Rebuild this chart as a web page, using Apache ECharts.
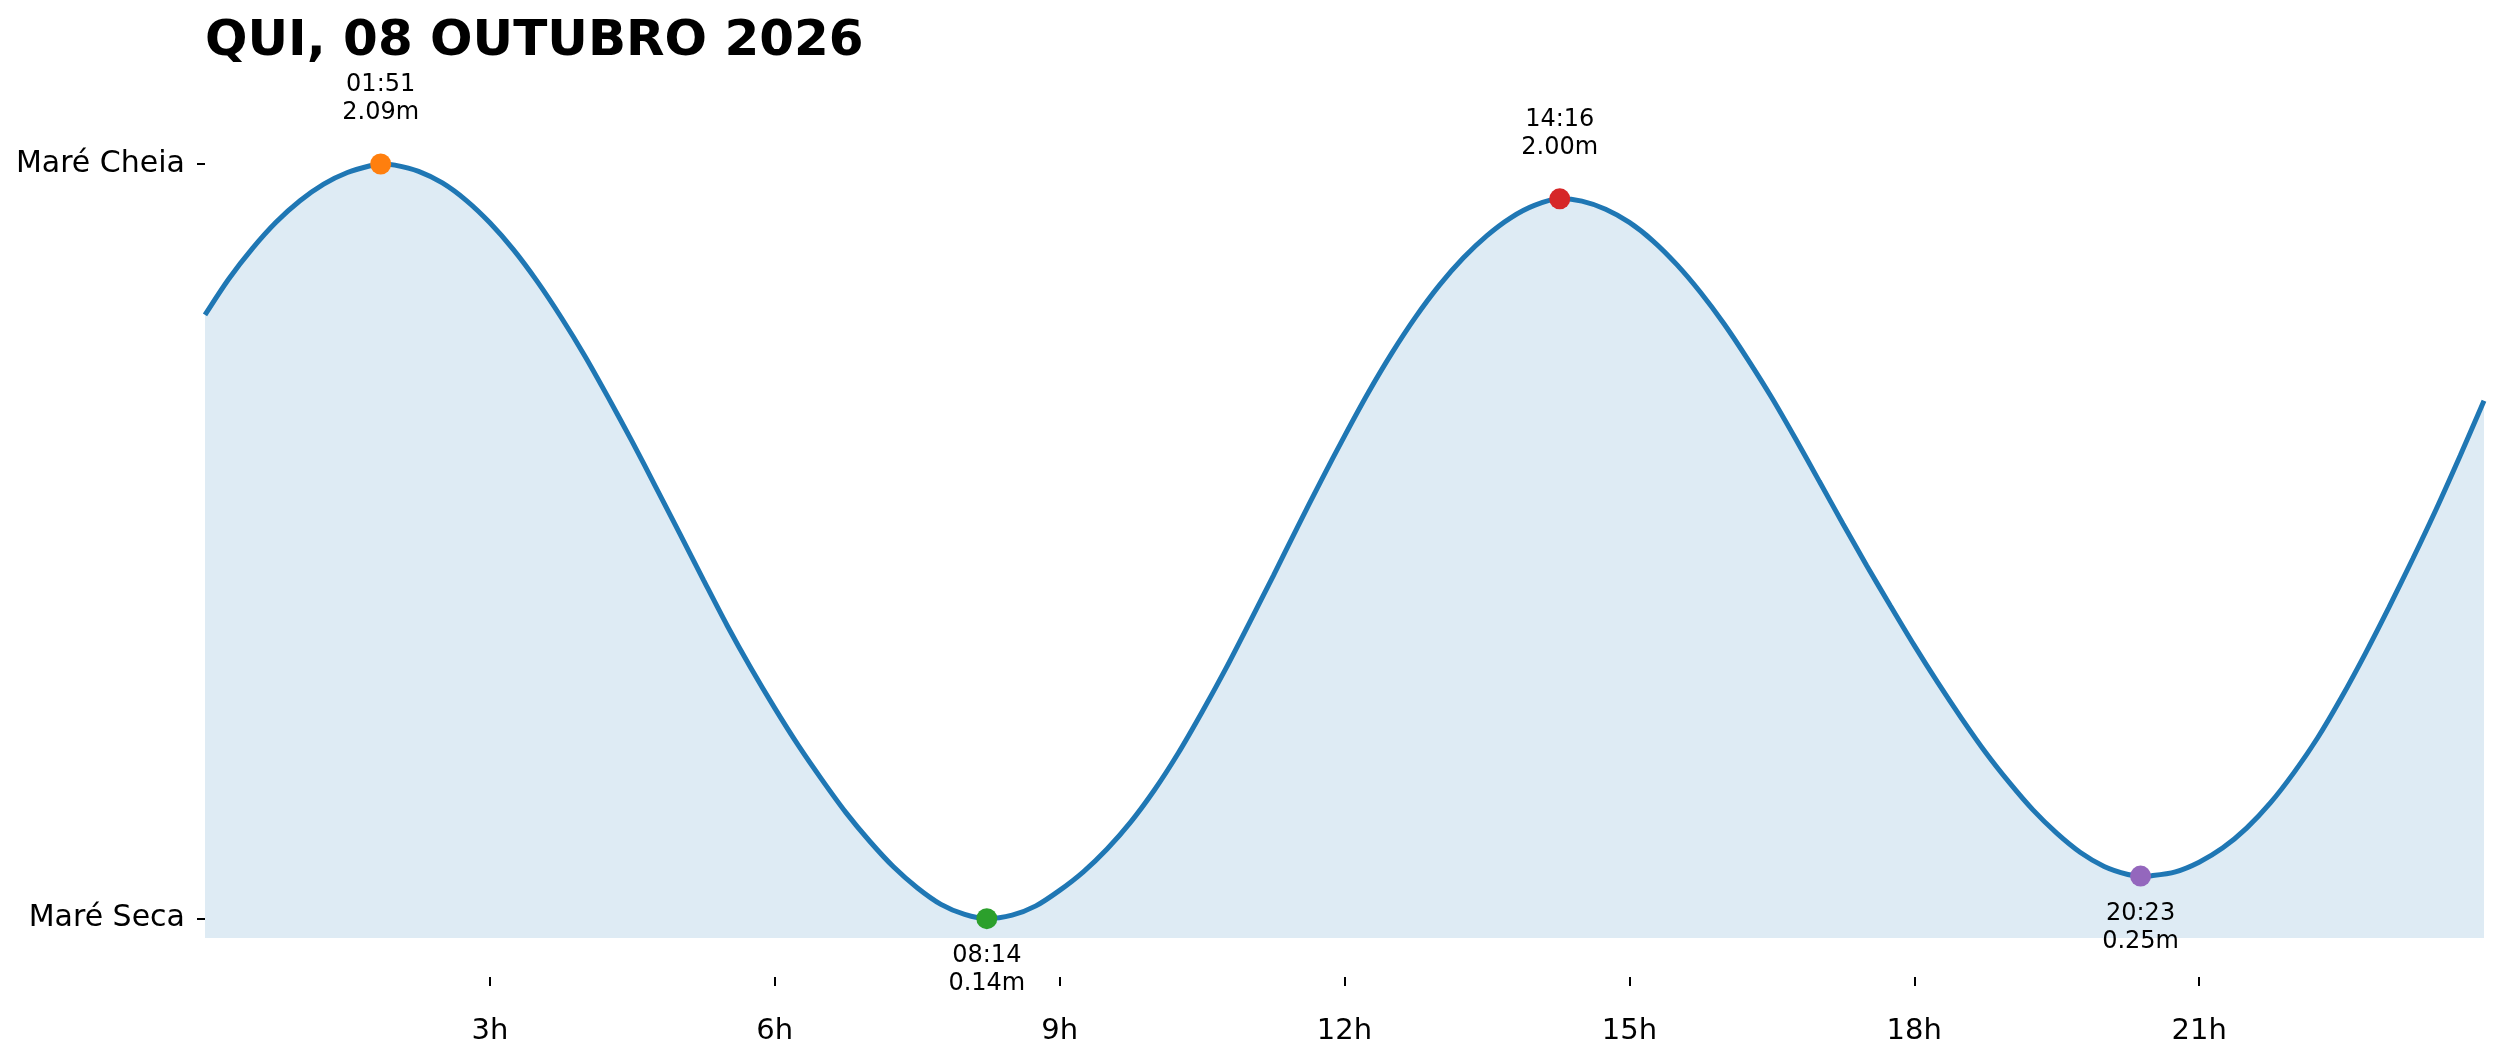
<!DOCTYPE html>
<html>
<head>
<meta charset="utf-8">
<title>Tábua de marés</title>
<script src="https://cdn.jsdelivr.net/npm/echarts@6/dist/echarts.min.js"></script>
<style>
  html, body { margin: 0; padding: 0; background: #fff; }
  #chart { width: 2501px; height: 1062px; }
</style>
</head>
<body>
<div id="chart"></div>
<script>
// curve (hour of day, height in m)
var hours = [
  0, 0.25, 0.5, 0.75, 1, 1.25, 1.5, 1.75, 1.85,
  2, 2.25, 2.5, 2.75, 3, 3.25, 3.5, 3.75, 4, 4.25, 4.5, 4.75, 5, 5.25, 5.5, 5.75,
  6, 6.25, 6.5, 6.75, 7, 7.25, 7.5, 7.75, 8, 8.2333,
  8.5, 8.75, 9, 9.25, 9.5, 9.75, 10, 10.25, 10.5, 10.75, 11, 11.25, 11.5, 11.75,
  12, 12.25, 12.5, 12.75, 13, 13.25, 13.5, 13.75, 14, 14.2667,
  14.5, 14.75, 15, 15.25, 15.5, 15.75, 16, 16.25, 16.5, 16.75, 17, 17.25, 17.5, 17.75,
  18, 18.25, 18.5, 18.75, 19, 19.25, 19.5, 19.75, 20, 20.25, 20.3833,
  20.5, 20.75, 21, 21.25, 21.5, 21.75, 22, 22.25, 22.5, 22.75, 23, 23.25, 23.5, 23.75, 24
];
var heights = [
  1.700, 1.793, 1.872, 1.940, 1.995, 2.038, 2.068, 2.086, 2.090,
  2.087, 2.071, 2.041, 1.996, 1.938, 1.868, 1.786, 1.694, 1.594, 1.485, 1.372, 1.254, 1.135, 1.015, 0.897, 0.787,
  0.684, 0.587, 0.498, 0.414, 0.340, 0.274, 0.220, 0.177, 0.151, 0.140,
  0.149, 0.173, 0.213, 0.261, 0.320, 0.390, 0.473, 0.568, 0.674, 0.786, 0.905, 1.026, 1.149, 1.270,
  1.387, 1.499, 1.602, 1.695, 1.777, 1.847, 1.905, 1.951, 1.983, 2.000,
  1.994, 1.973, 1.939, 1.891, 1.830, 1.758, 1.676, 1.584, 1.486, 1.380, 1.270, 1.160, 1.052, 0.948,
  0.846, 0.749, 0.657, 0.570, 0.492, 0.421, 0.361, 0.311, 0.275, 0.254, 0.250,
  0.251, 0.261, 0.286, 0.323, 0.374, 0.439, 0.518, 0.608, 0.712, 0.825, 0.945, 1.070, 1.200, 1.337, 1.478
];

// high / low waters
var extremeTimes = ['01:51', '08:14', '14:16', '20:23'];
var extremeHeights = [2.09, 0.14, 2.00, 0.25];
var extremeKinds = ['high', 'low', 'high', 'low'];
var extremeColors = ['#ff7f0e', '#2ca02c', '#d62728', '#9467bd'];

var hourTicks = [3, 6, 9, 12, 15, 18, 21];
var levelTicks = [0.14, 2.09];
var levelNames = ['Maré Seca', 'Maré Cheia'];

var FONT = 'DejaVu Sans';

function toHour(s) {
  var p = s.split(':');
  return +p[0] + p[1] / 60;
}

var curve = hours.map(function (h, i) { return [h, heights[i]]; });

var points = extremeTimes.map(function (t, i) {
  var high = extremeKinds[i] === 'high';
  return {
    value: [toHour(t), extremeHeights[i]],
    itemStyle: { color: extremeColors[i], opacity: 1 },
    label: {
      position: high ? 'top' : 'bottom',
      distance: high ? 27 : 13,
      formatter: t + '\n' + extremeHeights[i].toFixed(2) + 'm'
    }
  };
});

var chart = echarts.init(document.getElementById('chart'), null, { renderer: 'canvas' });

chart.setOption({
  animation: false,
  backgroundColor: '#ffffff',
  title: {
    text: 'QUI, 08 OUTUBRO 2026',
    left: 205,
    top: 17,
    padding: 0,
    textStyle: { fontFamily: FONT, fontSize: 50, fontWeight: 'bold', color: '#000' }
  },
  grid: { left: 205, right: 17, top: 164, bottom: 124 },
  xAxis: {
    type: 'value',
    min: 0,
    max: 24,
    interval: 3,
    offset: 39,
    axisLine: { show: false },
    splitLine: { show: false },
    axisTick: { show: true, length: 9, customValues: hourTicks, lineStyle: { color: '#000', width: 2 } },
    axisLabel: {
      customValues: hourTicks,
      margin: 40,
      fontFamily: FONT,
      fontSize: 29,
      color: '#000',
      formatter: function (v) { return v + 'h'; }
    }
  },
  yAxis: {
    type: 'value',
    min: 0.09,
    max: 2.09,
    axisLine: { show: false },
    splitLine: { show: false },
    axisTick: { show: true, length: 8, customValues: levelTicks, lineStyle: { color: '#000', width: 2 } },
    axisLabel: {
      customValues: levelTicks,
      margin: 20,
      fontFamily: FONT,
      fontSize: 30,
      color: '#000',
      formatter: function (v) {
        var i = levelTicks.indexOf(v);
        return i >= 0 ? levelNames[i] : '';
      }
    }
  },
  series: [
    {
      type: 'line',
      data: curve,
      smooth: 0.3,
      showSymbol: false,
      clip: false,
      lineStyle: { color: '#1f77b4', width: 5 },
      areaStyle: { color: '#1f77b4', opacity: 0.15, origin: 'start' },
      z: 2
    },
    {
      type: 'scatter',
      data: points,
      symbolSize: 21,
      clip: false,
      label: {
        show: true,
        fontFamily: FONT,
        fontSize: 24,
        lineHeight: 28,
        color: '#000',
        align: 'center'
      },
      z: 3
    }
  ]
});
</script>
</body>
</html>
